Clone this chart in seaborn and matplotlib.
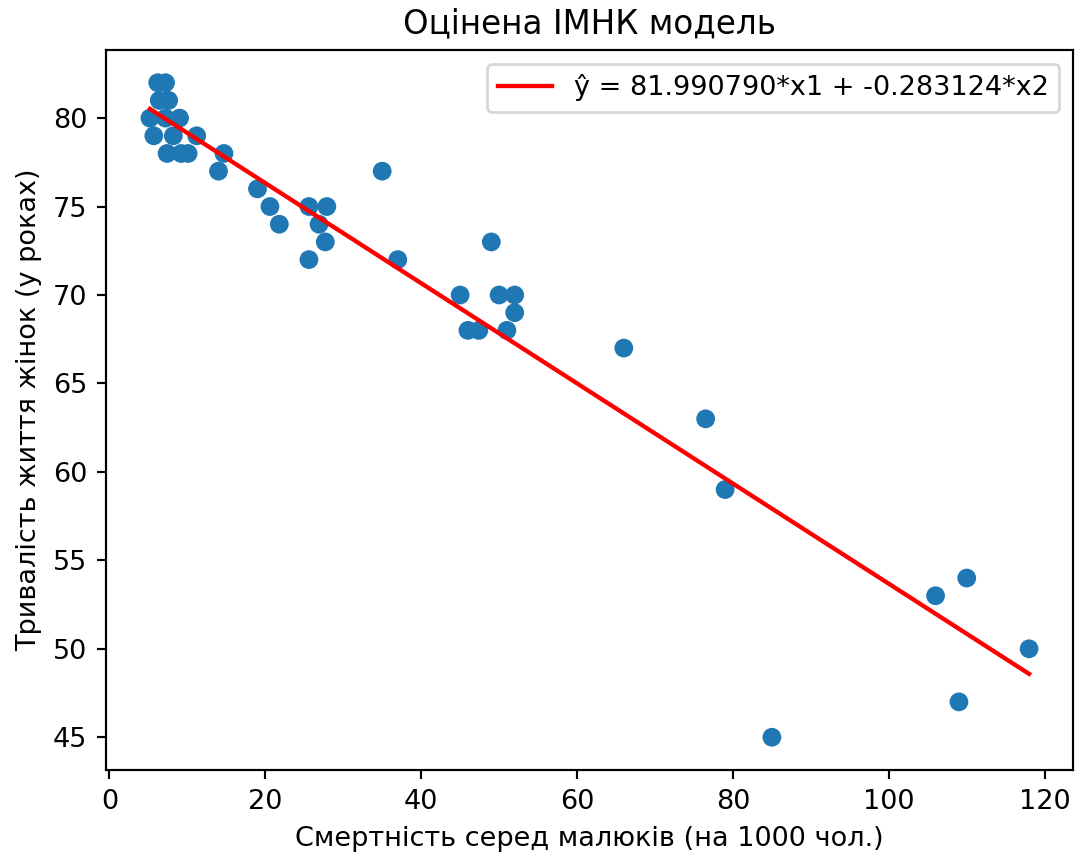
import numpy as np
import pandas as pd
import matplotlib
matplotlib.use("Agg")
import matplotlib.pyplot as plt
import seaborn as sns

# Infant mortality (per 1000) and female life expectancy (years)
mortality = [6.2, 7.2, 6.4, 7.6, 5.2, 7.2, 9.0, 5.7, 8.2, 11.2, 7.4, 9.2, 10.1, 14.0, 14.7,
             19.0, 20.6, 21.8, 25.6, 27.9, 26.9, 27.7, 25.6, 35.0, 37.0,
             45.0, 49.0, 50.0, 52.0, 52.0, 46.0, 47.4, 51.0,
             66.0, 76.5, 79.0, 85.0, 106.0, 110.0, 109.0, 118.0]
life_exp = [82, 82, 81, 81, 80, 80, 80, 79, 79, 79, 78, 78, 78, 77, 78,
            76, 75, 74, 75, 75, 74, 73, 72, 77, 72,
            70, 73, 70, 70, 69, 68, 68, 68,
            67, 63, 59, 45, 53, 54, 47, 50]

b0 = 81.990790
b1 = -0.283124

title = "Оцінена IМНК модель"
xlabel = "Смертність серед малюків (на 1000 чол.)"
ylabel = "Тривалість життя жінок (у роках)"
legend_label = "\u0177 = 81.990790*x1 + -0.283124*x2"

df = pd.DataFrame({"x": mortality, "y": life_exp})
xs = np.array(mortality, dtype=float)
order = np.argsort(xs)
line_df = pd.DataFrame({"x": xs[order], "y": b0 + b1 * xs[order]})

dpi = 195
fig = plt.figure(figsize=(1078 / dpi, 856 / dpi), dpi=dpi)
ax = fig.add_axes([0.0983, 0.1005, 0.8971, 0.8411])

sns.scatterplot(data=df, x="x", y="y", ax=ax, color="#1f77b4", s=48,
                edgecolor="none", linewidth=0)
sns.lineplot(data=line_df, x="x", y="y", ax=ax, color="red", linewidth=1.6,
             label=legend_label, sort=False)

ax.set_title(title, fontsize=12)
ax.set_xlabel(xlabel)
ax.set_ylabel(ylabel)
ax.set_xticks([0, 20, 40, 60, 80, 100, 120])
ax.set_yticks([45, 50, 55, 60, 65, 70, 75, 80])
ax.legend(loc="upper right")

fig.savefig("out.png", dpi=dpi)
